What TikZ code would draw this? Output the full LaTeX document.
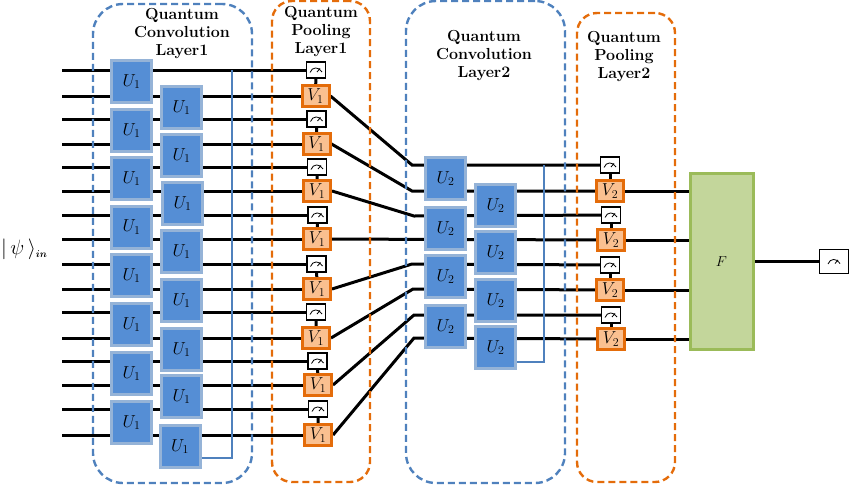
\documentclass[tikz,border=0pt]{standalone}
\usepackage{amsmath,amssymb}
\usetikzlibrary{backgrounds}
\definecolor{convB}{RGB}{79,129,189}
\definecolor{poolO}{RGB}{228,108,10}
\definecolor{uFill}{RGB}{85,142,213}
\definecolor{uEdge}{RGB}{149,179,215}
\definecolor{vFill}{RGB}{250,192,144}
\definecolor{fFill}{RGB}{195,214,155}
\definecolor{fEdge}{RGB}{155,187,89}

\begin{document}
\begin{tikzpicture}[x=1pt,y=-1pt,
  ubox/.style={rectangle,draw=uEdge,fill=uFill,line width=3pt,minimum width=40pt,minimum height=42pt,inner sep=0,font=\fontsize{18}{18}\selectfont},
  vbox/.style={rectangle,draw=poolO,fill=vFill,line width=3pt,minimum width=27pt,minimum height=21pt,inner sep=0,font=\fontsize{17}{17}\selectfont},
  gauge/.style={rectangle,draw=black,fill=white,line width=1.5pt,inner sep=0,
    path picture={\draw[black,line width=.8pt,shift={(path picture bounding box.center)},scale=#1] (-6,2.5) .. controls (-4,-3.5) and (3,-3.5) .. (6,2) (1,2) -- (4,-1.5);}},
  meter/.style={gauge=1,minimum width=19pt,minimum height=16pt},
  bigmeter/.style={gauge=1.9,minimum width=29pt,minimum height=24pt},
  wire/.style={draw=black,line width=3pt},
  tap/.style={draw=convB,line width=1.2pt},
  convframe/.style={rectangle,draw=convB,line width=2.4pt,dash pattern=on 7pt off 4pt,rounded corners=30pt,minimum width=159pt,minimum height=479pt,inner sep=0},
  poolframe/.style={rectangle,draw=poolO,line width=2.4pt,dash pattern=on 7pt off 4pt,rounded corners=20pt,minimum width=98pt,inner sep=0},
  head/.style={font=\fontsize{16}{18}\selectfont\bfseries,align=center,inner sep=0}]
 \useasboundingbox (0,0) rectangle (850,485);
 % frames
 \node[convframe] (conv1) at (172.5,243.5) {};
 \node[poolframe,minimum height=481pt] (pool1) at (321,241.5) {};
 \node[convframe,minimum height=482pt] (conv2) at (485.5,242) {};
 \node[poolframe,minimum height=469pt] (pool2) at (626,247.5) {};
 \node[head] (t1) at (182,34) {Quantum\\Convolution\\Layer1};
 \node[head] (t2) at (321,32) {Quantum\\Pooling\\Layer1};
 \node[head] (t3) at (484,56) {Quantum\\Convolution\\Layer2};
 \node[head] (t4) at (624,57) {Quantum\\Pooling\\Layer2};
 \node[font=\fontsize{20}{20}\selectfont,inner sep=0,anchor=west] (psi) at (1,249) {$|\,\psi\,\rangle_{\scriptscriptstyle\boldsymbol{in}}$};
 % input ends
 \coordinate (in1) at (62,70);  \coordinate (in2) at (62,96);  \coordinate (in3) at (62,119);  \coordinate (in4) at (62,144);
 \coordinate (in5) at (62,167); \coordinate (in6) at (62,191); \coordinate (in7) at (62,215);  \coordinate (in8) at (62,239);
 \coordinate (in9) at (62,264); \coordinate (in10) at (62,289); \coordinate (in11) at (62,312); \coordinate (in12) at (62,338);
 \coordinate (in13) at (62,361); \coordinate (in14) at (62,385); \coordinate (in15) at (62,409); \coordinate (in16) at (62,435);
 % convolution layer 1
 \node[ubox] (ua1) at (131.5,81.5) {$U_1$};  \node[ubox] (ua2) at (131.5,130.5) {$U_1$};
 \node[ubox] (ua3) at (131.5,178.5) {$U_1$}; \node[ubox] (ua4) at (131.5,227) {$U_1$};
 \node[ubox] (ua5) at (131.5,275.5) {$U_1$}; \node[ubox] (ua6) at (131.5,324.5) {$U_1$};
 \node[ubox] (ua7) at (131.5,373.5) {$U_1$}; \node[ubox] (ua8) at (131.5,422.5) {$U_1$};
 \node[ubox] (ub1) at (181.5,107.5) {$U_1$}; \node[ubox] (ub2) at (181.5,155.5) {$U_1$};
 \node[ubox] (ub3) at (182.5,203.5) {$U_1$}; \node[ubox] (ub4) at (181.5,251.5) {$U_1$};
 \node[ubox] (ub5) at (181.5,300.5) {$U_1$}; \node[ubox] (ub6) at (181.5,349.5) {$U_1$};
 \node[ubox] (ub7) at (181.5,396.5) {$U_1$}; \node[ubox] (ub8) at (180,446.5) {$U_1$};
 % pooling layer 1
 \node[meter] (ma1) at (316,70) {};    \node[vbox] (va1) at (315.5,96) {$V_1$};
 \node[meter] (ma2) at (316.5,119) {}; \node[vbox] (va2) at (316.5,144) {$V_1$};
 \node[meter] (ma3) at (317,167) {};   \node[vbox] (va3) at (317,191) {$V_1$};
 \node[meter] (ma4) at (317.5,215) {}; \node[vbox] (va4) at (317,239) {$V_1$};
 \node[meter] (ma5) at (316.5,264) {}; \node[vbox] (va5) at (317,289) {$V_1$};
 \node[meter] (ma6) at (316,312) {};   \node[vbox] (va6) at (316,338) {$V_1$};
 \node[meter] (ma7) at (317.5,361) {}; \node[vbox] (va7) at (318,385) {$V_1$};
 \node[meter] (ma8) at (318,409) {};   \node[vbox] (va8) at (318,435) {$V_1$};
 % convolution layer 2
 \node[ubox] (uc1) at (445.5,178.5) {$U_2$}; \node[ubox] (uc2) at (445.5,228.5) {$U_2$};
 \node[ubox] (uc3) at (445.5,276.5) {$U_2$}; \node[ubox] (uc4) at (445.5,326.5) {$U_2$};
 \node[ubox] (ud1) at (495.5,205.5) {$U_2$}; \node[ubox] (ud2) at (495.5,252.5) {$U_2$};
 \node[ubox] (ud3) at (495.5,300.5) {$U_2$}; \node[ubox] (ud4) at (495.5,347.5) {$U_2$};
 % pooling layer 2
 \node[meter] (mb1) at (610,165) {};   \node[vbox] (vb1) at (610,191) {$V_2$};
 \node[meter] (mb2) at (611,215) {};   \node[vbox] (vb2) at (611,240) {$V_2$};
 \node[meter] (mb3) at (610,265) {};   \node[vbox] (vb3) at (610,290) {$V_2$};
 \node[meter] (mb4) at (611,315) {};   \node[vbox] (vb4) at (611,339) {$V_2$};
 % output
 \node[rectangle,draw=fEdge,fill=fFill,line width=3pt,minimum width=63pt,minimum height=176pt,inner sep=0,font=\fontsize{15}{15}\selectfont] (f) at (721.5,261.5) {$F$};
 \node[bigmeter] (mout) at (834,261.5) {};
 % bends between the layers
 \coordinate (j1) at (412,165); \coordinate (j2) at (412,191); \coordinate (j3) at (414,216);
 \coordinate (j5) at (412,264); \coordinate (j6) at (413,289); \coordinate (j7) at (414,315); \coordinate (j8) at (414,338);
 \begin{scope}[on background layer]
  \draw[wire] (in1)--(ma1) (in2)--(va1) (in3)--(ma2) (in4)--(va2) (in5)--(ma3) (in6)--(va3) (in7)--(ma4) (in8)--(va4);
  \draw[wire] (in9)--(ma5) (in10)--(va5) (in11)--(ma6) (in12)--(va6) (in13)--(ma7) (in14)--(va7) (in15)--(ma8) (in16)--(va8);
  \draw[wire] (ma1)--(va1) (ma2)--(va2) (ma3)--(va3) (ma4)--(va4) (ma5)--(va5) (ma6)--(va6) (ma7)--(va7) (ma8)--(va8);
  \draw[wire] (va1.east)--(j1)--(mb1) (va2.east)--(j2)--(vb1) (va3.east)--(j3)--(mb2) (va4)--(vb2);
  \draw[wire] (va5.east)--(j5)--(mb3) (va6.east)--(j6)--(vb3) (va7.east)--(j7)--(mb4) (va8.east)--(j8)--(vb4);
  \draw[wire] (mb1)--(vb1) (mb2)--(vb2) (mb3)--(vb3) (mb4)--(vb4);
  \draw[wire] (vb1)--(vb1 -| f.west) (vb2)--(vb2 -| f.west) (vb3)--(vb3 -| f.west) (vb4)--(vb4 -| f.west) (f)--(mout);
 \end{scope}
 % thin blue taps
 \coordinate (tapa) at (232,70); \coordinate (tapb) at (232,458);
 \coordinate (tapc) at (544,165); \coordinate (tapd) at (544,362);
 \draw[tap] (tapa)--(tapb)--(tapb -| ub8.east);
 \draw[tap] (tapc)--(tapd)--(tapd -| ud4.east);
\end{tikzpicture}
\end{document}
